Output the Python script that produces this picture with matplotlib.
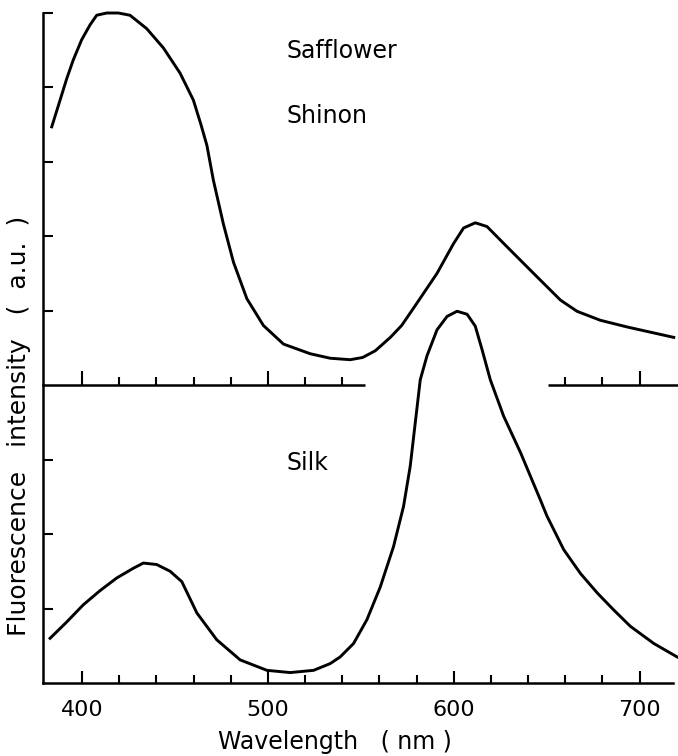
import matplotlib
matplotlib.use("Agg")
import matplotlib.pyplot as plt
from matplotlib.ticker import FixedLocator, NullFormatter

# ---- data ----
shinon_nm = [383.7, 388.2, 391.8, 395.3, 399.8, 404.3, 407.9, 413.3, 419.5, 425.8,
             434.8, 443.8, 452.8, 459.9, 464.0, 467.2, 470.7, 476.1, 481.5, 488.7,
             497.6, 508.4, 522.8, 533.5, 544.3, 551.0, 557.8, 565.9, 572.0, 580.2,
             591.0, 599.9, 605.3, 611.6, 617.9, 628.6, 643.0, 657.5, 666.4, 678.9,
             693.3, 718.4]
shinon_int = [3.47, 3.83, 4.12, 4.37, 4.64, 4.84, 4.97, 5.00, 5.00, 4.97,
              4.79, 4.53, 4.19, 3.83, 3.50, 3.22, 2.75, 2.16, 1.65, 1.16,
              0.80, 0.55, 0.42, 0.36, 0.34, 0.37, 0.46, 0.64, 0.80, 1.10,
              1.50, 1.90, 2.11, 2.18, 2.13, 1.86, 1.50, 1.14, 0.99, 0.87,
              0.78, 0.64]

silk_nm = [382.8, 391.8, 400.7, 409.7, 418.7, 427.6, 433.0, 440.2, 447.4, 453.7,
           461.8, 472.5, 485.1, 499.5, 512.0, 524.6, 533.5, 538.9, 546.1, 553.3,
           560.5, 567.6, 573.0, 576.6, 579.3, 582.0, 585.6, 591.0, 596.4, 601.8,
           607.2, 611.6, 615.2, 619.7, 626.9, 636.0, 646.6, 650.2, 659.2, 668.2,
           677.2, 686.1, 695.1, 707.7, 720.2]
silk_int = [0.60, 0.82, 1.05, 1.24, 1.41, 1.54, 1.61, 1.59, 1.50, 1.36,
            0.94, 0.58, 0.31, 0.17, 0.14, 0.17, 0.26, 0.35, 0.53, 0.85,
            1.29, 1.83, 2.37, 2.91, 3.49, 4.07, 4.39, 4.74, 4.92, 4.99,
            4.95, 4.79, 4.48, 4.07, 3.58, 3.09, 2.46, 2.24, 1.79, 1.47,
            1.21, 0.98, 0.76, 0.53, 0.35]

x_major = [400, 500, 600, 700]
x_minor = [420, 440, 460, 480, 520, 540, 560, 580, 620, 640, 660, 680]
x_labels = ["400", "500", "600", "700"]
# broken baseline of the upper panel
baseline_segments = [(379, 552), (651, 722)]
top_major = [400, 500, 700]
top_minor = [420, 440, 460, 480, 520, 540, 660, 680]
y_ticks_bottom = [1, 2, 3]
y_ticks_top = [1, 2, 3, 4, 5]

xlim = (379, 718)
lw = 2.1
slw = 1.8
fs = 17

plt.rcParams['font.family'] = ['DejaVu Sans']
fig = plt.figure(figsize=(6.78, 7.56), dpi=100)
fig.patch.set_facecolor("white")

L, R = 43 / 678, 673 / 678
yb, ym, yt = 1 - 683 / 756, 1 - 385 / 756, 1 - 13 / 756
ax_b = fig.add_axes([L, yb, R - L, ym - yb])
ax_t = fig.add_axes([L, ym, R - L, yt - ym])
ax_t.patch.set_visible(False)

# bottom panel: Silk
ax_b.plot(silk_nm, silk_int, color="black", lw=lw, clip_on=False, zorder=5,
          solid_joinstyle="round")
ax_b.set_xlim(*xlim)
ax_b.set_ylim(0, 4)
for s in ("top", "right"):
    ax_b.spines[s].set_visible(False)
for s in ("left", "bottom"):
    ax_b.spines[s].set_linewidth(slw)
ax_b.xaxis.set_major_locator(FixedLocator(x_major))
ax_b.xaxis.set_minor_locator(FixedLocator(x_minor))
ax_b.set_xticklabels(x_labels)
ax_b.xaxis.set_minor_formatter(NullFormatter())
ax_b.tick_params(axis="x", which="major", direction="in", length=9, width=1.5,
                 pad=12, labelsize=16)
ax_b.tick_params(axis="x", which="minor", direction="in", length=5.5, width=1.5)
ax_b.set_yticks(y_ticks_bottom)
ax_b.set_yticklabels([])
ax_b.tick_params(axis="y", direction="in", length=7, width=1.5)
ax_b.set_xlabel("Wavelength   ( nm )", fontsize=fs)
ax_b.xaxis.set_label_coords(0.463, -0.158)
ax_b.text(510, 2.95, "Silk", fontsize=fs, ha="left", va="center")

# top panel: Safflower Shinon
ax_t.plot(shinon_nm, shinon_int, color="black", lw=lw, clip_on=False, zorder=5,
          solid_joinstyle="round")
ax_t.set_xlim(*xlim)
ax_t.set_ylim(0, 5)
for s in ("top", "right", "bottom"):
    ax_t.spines[s].set_visible(False)
ax_t.spines["left"].set_linewidth(slw)
for x0, x1 in baseline_segments:
    ax_t.hlines(0, x0, x1, color="black", lw=slw, clip_on=False)
ax_t.xaxis.set_major_locator(FixedLocator(top_major))
ax_t.xaxis.set_minor_locator(FixedLocator(top_minor))
ax_t.xaxis.set_major_formatter(NullFormatter())
ax_t.xaxis.set_minor_formatter(NullFormatter())
ax_t.tick_params(axis="x", which="major", direction="in", length=10, width=1.5)
ax_t.tick_params(axis="x", which="minor", direction="in", length=6, width=1.5)
ax_t.set_yticks(y_ticks_top)
ax_t.set_yticklabels([])
ax_t.tick_params(axis="y", direction="in", length=7, width=1.5)
ax_t.text(510, 4.49, "Safflower", fontsize=fs, ha="left", va="center")
ax_t.text(510, 3.62, "Shinon", fontsize=fs, ha="left", va="center")

fig.text(19 / 678, 1 - 426 / 756, "Fluorescence   intensity   (  a.u.  )",
         rotation=90, fontsize=18, ha="center", va="center")

fig.savefig("out.png", dpi=100, facecolor="white")
